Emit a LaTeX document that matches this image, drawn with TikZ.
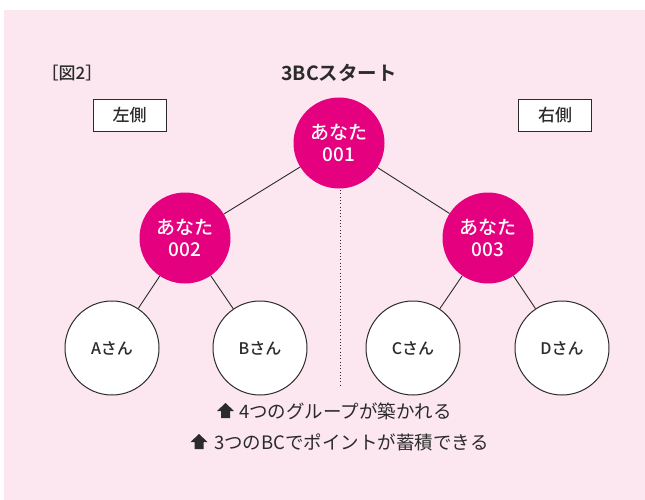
\documentclass[tikz,border=0pt]{standalone}
\usepackage{fontspec}
\setmainfont{Noto Sans CJK JP Medium}[BoldFont={Noto Sans CJK JP Bold}]
\newfontfamily\notefont{Noto Sans CJK JP}
\definecolor{bgpink}{HTML}{FCE7F0}
\definecolor{mag}{HTML}{E4007F}
\definecolor{ink}{HTML}{2B2B2B}
\begin{document}
\begin{tikzpicture}[x=1pt,y=-1pt,
  you/.style={circle,fill=mag,minimum size=91pt,inner sep=0pt,text=white,font=\fontsize{19}{22}\selectfont,align=center},
  member/.style={circle,draw=ink,line width=1pt,fill=white,minimum size=94pt,inner sep=0pt,text=ink,font=\fontsize{16}{18}\selectfont},
  side/.style={draw=ink,line width=0.8pt,fill=white,minimum width=73pt,minimum height=32pt,inner sep=0pt,text=ink,font=\fontsize{17}{19}\selectfont},
  link/.style={draw=ink,line width=0.9pt},
  note/.style={text=ink,font=\notefont\fontsize{18.5}{20}\selectfont,inner sep=0pt,anchor=west},
  uparrow/.style={fill=ink}]
\useasboundingbox (0,0) rectangle (645,500);
\fill[bgpink] (4,10) rectangle (645,500);
\node[text=ink,font=\fontsize{17}{19}\selectfont] (fig) at (72,73) {［図2］};
\node[text=ink,font=\bfseries\fontsize{19.5}{21}\selectfont] (title) at (339,73) {3BCスタート};
\node[side] (left) at (129.5,115) {左側};
\node[side] (right) at (555,115) {右側};
\coordinate (dtop) at (340,190);
\coordinate (dbot) at (340,386);
\draw[ink,line width=0.9pt,dash pattern=on 0.9pt off 2.4pt] (dtop) -- (dbot);
\node[you] (n1) at (339,143) {あなた\\001};
\node[you] (n2) at (185,238) {あなた\\002};
\node[you] (n3) at (488,238) {あなた\\003};
\node[member] (a) at (112,348) {Aさん};
\node[member] (b) at (260,348) {Bさん};
\node[member] (c) at (413,348) {Cさん};
\node[member] (d) at (562,348) {Dさん};
\draw[link] (n1) -- (n2);
\draw[link] (n1) -- (n3);
\draw[link] (n2) -- (a);
\draw[link] (n2) -- (b);
\draw[link] (n3) -- (c);
\draw[link] (n3) -- (d);
\node[note] (t1) at (239,411) {4つのグループが築かれる};
\node[note] (t2) at (214,442) {3つのBCでポイントが蓄積できる};
\fill[uparrow] ([xshift=-13.5pt,yshift=8pt]t1.west) -- ++(8.5,8) -- ++(-4,0) -- ++(0,7) -- ++(-9,0) -- ++(0,-7) -- ++(-4,0) -- cycle;
\fill[uparrow] ([xshift=-15pt,yshift=8pt]t2.west) -- ++(8.5,8) -- ++(-4,0) -- ++(0,7) -- ++(-9,0) -- ++(0,-7) -- ++(-4,0) -- cycle;
\end{tikzpicture}
\end{document}
